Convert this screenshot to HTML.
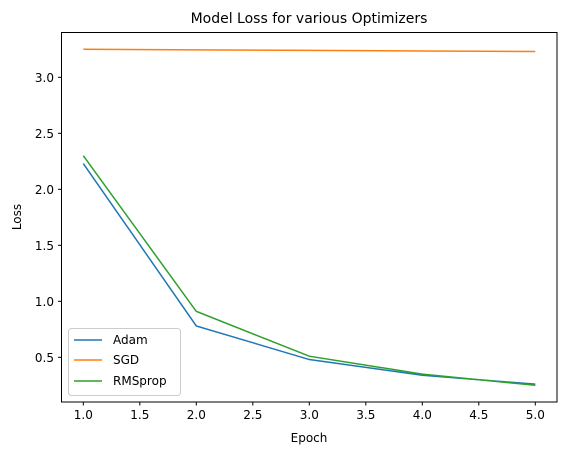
<!DOCTYPE html>
<html><head><meta charset="utf-8"><style>
body{margin:0;background:#fff;}
svg text{font-family:"DejaVu Sans","Liberation Sans",sans-serif;fill:#000;}
</style></head><body>
<svg id="chart" width="567" height="455" xmlns="http://www.w3.org/2000/svg">
<rect width="567" height="455" fill="#fff"/>
<text x="309" y="23" font-size="14" text-anchor="middle">Model Loss for various Optimizers</text>
<g id="plot"></g>
<rect x="61.5" y="32.5" width="495.5" height="369.5" fill="none" stroke="#000" stroke-width="1"/>
<text x="309" y="442" font-size="12" text-anchor="middle">Epoch</text>
<text x="21" y="217" font-size="12" text-anchor="middle" transform="rotate(-90 21 217)">Loss</text>
<g>
<rect x="68.5" y="328.5" width="112" height="67" rx="3" fill="#fff" fill-opacity="0.8" stroke="#ccc"/>
<line x1="74" y1="340" x2="102" y2="340" stroke="#1f77b4" stroke-width="1.5"/><text x="113" y="344" font-size="12">Adam</text>
<line x1="74" y1="360" x2="102" y2="360" stroke="#ff7f0e" stroke-width="1.5"/><text x="113" y="364" font-size="12">SGD</text>
<line x1="74" y1="381" x2="102" y2="381" stroke="#2ca02c" stroke-width="1.5"/><text x="113" y="385" font-size="12">RMSprop</text>
</g>
</svg>
<script>
const epochs=[1,2,3,4,5];
const adam=[2.23,0.78,0.48,0.34,0.26];
const sgd=[3.25,3.245,3.24,3.235,3.23];
const rmsprop=[2.30,0.91,0.51,0.35,0.25];
const xTicks=[1.0,1.5,2.0,2.5,3.0,3.5,4.0,4.5,5.0];
const yTicks=[0.5,1.0,1.5,2.0,2.5,3.0];
const NS="http://www.w3.org/2000/svg";
function sx(v){return 83.3+(v-1)*113;}
function sy(v){return 77.3+(3-v)*112;}
const g=document.getElementById('plot');
function mk(t,a){const e=document.createElementNS(NS,t);for(const k in a)e.setAttribute(k,a[k]);g.appendChild(e);return e;}
xTicks.forEach(v=>{
  const l=mk('line',{x1:sx(v),x2:sx(v),y1:402,y2:405.5,stroke:'#000'});
  
  
  const t=mk('text',{x:sx(v),y:419,'font-size':12,'text-anchor':'middle'});t.textContent=v.toFixed(1);
  
  
});
yTicks.forEach(v=>{
  const l=mk('line',{x1:58,x2:61.5,y1:sy(v),y2:sy(v),stroke:'#000'});
  
  
  const t=mk('text',{x:54,y:sy(v)+4.5,'font-size':12,'text-anchor':'end'});t.textContent=v.toFixed(1);
  
  
});
[[adam,'#1f77b4','adam-line'],[sgd,'#ff7f0e','sgd-line'],[rmsprop,'#2ca02c','rmsprop-line']].forEach(([d,c,n])=>{
  const p=mk('polyline',{points:d.map((v,i)=>sx(epochs[i])+','+sy(v)).join(' '),fill:'none',stroke:c,'stroke-width':1.5});
  
  
});
</script>
</body></html>
